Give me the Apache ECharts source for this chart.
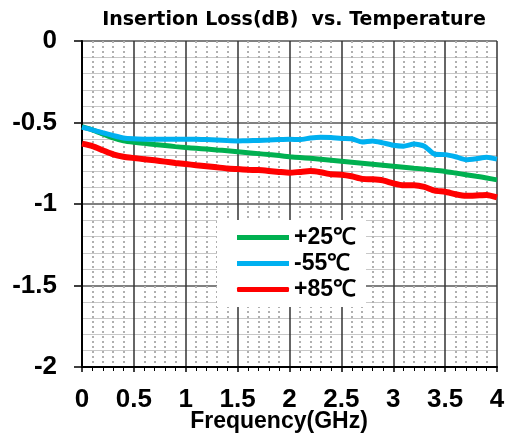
<!DOCTYPE html>
<html>
<head>
<meta charset="utf-8">
<script src="https://cdn.jsdelivr.net/npm/echarts@6/dist/echarts.min.js"></script>
<style>
html,body{margin:0;padding:0;background:#fff;}
#c{width:505px;height:439px;}
</style>
</head>
<body>
<div id="c"></div>
<script>
var freq = [0,0.1,0.2,0.3,0.4,0.5,0.6,0.7,0.8,0.9,1.0,1.1,1.2,1.3,1.4,1.5,1.6,1.7,1.8,1.9,2.0,2.1,2.2,2.3,2.4,2.5,2.6,2.7,2.8,2.9,3.0,3.1,3.2,3.3,3.4,3.5,3.6,3.7,3.8,3.9,4.0];
var loss25 = [-0.525,-0.545,-0.570,-0.595,-0.613,-0.622,-0.628,-0.635,-0.641,-0.648,-0.654,-0.658,-0.663,-0.668,-0.673,-0.679,-0.685,-0.691,-0.697,-0.703,-0.710,-0.715,-0.720,-0.726,-0.732,-0.738,-0.744,-0.750,-0.756,-0.762,-0.768,-0.774,-0.780,-0.786,-0.793,-0.800,-0.810,-0.820,-0.830,-0.840,-0.852];
var lossM55 = [-0.530,-0.545,-0.563,-0.580,-0.595,-0.600,-0.602,-0.603,-0.603,-0.602,-0.602,-0.603,-0.605,-0.608,-0.611,-0.613,-0.612,-0.610,-0.608,-0.605,-0.603,-0.605,-0.595,-0.590,-0.592,-0.598,-0.600,-0.620,-0.613,-0.625,-0.640,-0.645,-0.632,-0.645,-0.695,-0.697,-0.710,-0.728,-0.722,-0.713,-0.725];
var loss85 = [-0.630,-0.645,-0.670,-0.695,-0.710,-0.718,-0.725,-0.732,-0.740,-0.748,-0.755,-0.762,-0.768,-0.775,-0.782,-0.786,-0.790,-0.792,-0.797,-0.803,-0.808,-0.803,-0.798,-0.805,-0.818,-0.820,-0.830,-0.846,-0.848,-0.855,-0.873,-0.885,-0.885,-0.895,-0.918,-0.925,-0.940,-0.950,-0.948,-0.945,-0.960];
var seriesNames = ['+25℃','-55℃','+85℃'];
var titleText = 'Insertion Loss(dB)  vs. Temperature';
var xName = 'Frequency(GHz)';

function pairs(v){ return freq.map(function(f,i){ return [f, v[i]]; }); }

var chart = echarts.init(document.getElementById('c'), null, {renderer:'canvas'});
var font = 'Liberation Sans, Arial, sans-serif';
chart.setOption({
  animation:false,
  backgroundColor:'#fff',
  title:[{
    text:titleText, left:289, top:6, textAlign:'center',
    textStyle:{fontFamily:'DejaVu Sans, Verdana, sans-serif', fontWeight:'bold', fontSize:19, color:'#000'}
  },{
    text:xName, left:279, top:410, textAlign:'center', padding:0,
    textStyle:{fontFamily:font, fontWeight:'bold', fontSize:23, color:'#000'}
  }],
  grid:{left:82, right:8, top:41, bottom:72, containLabel:false, outerBoundsMode:'none'},
  legend:{
    orient:'vertical', left:217, top:220, width:145, height:82,
    backgroundColor:'#fff', padding:[6,10,6,20], itemGap:3,
    itemWidth:52, itemHeight:5,
    textStyle:{fontFamily:font, fontWeight:'bold', fontSize:23, color:'#000'},
    data:[
      {name:seriesNames[0], icon:'rect'},
      {name:seriesNames[1], icon:'rect'},
      {name:seriesNames[2], icon:'roundRect'}
    ]
  },
  xAxis:{
    type:'value', min:0, max:4, interval:0.5,
    axisLine:{show:true, onZero:false, lineStyle:{color:'#000', width:2}},
    axisTick:{show:true, inside:false, length:5, lineStyle:{color:'#000', width:1.5}},
    minorTick:{show:true, splitNumber:5, length:4, lineStyle:{color:'#000', width:1}},
    axisLabel:{fontFamily:font, fontWeight:'bold', fontSize:26, color:'#000', margin:20,
      formatter:function(v){ return String(v); }},
    splitLine:{show:true, lineStyle:{color:'#333', width:1.5}},
    minorSplitLine:{show:true, lineStyle:{color:'#b0b0b0', width:2, type:[2,3]}}
  },
  yAxis:{
    type:'value', min:-2, max:0, interval:0.5,
    axisLine:{show:true, onZero:false, lineStyle:{color:'#000', width:2}},
    axisTick:{show:true, inside:false, length:8, lineStyle:{color:'#000', width:1.5}},
    minorTick:{show:false, splitNumber:5},
    axisLabel:{fontFamily:font, fontWeight:'bold', fontSize:26, color:'#000', margin:25,
      formatter:function(v){ return String(v); }},
    splitLine:{show:true, lineStyle:{color:'#808080', width:2}},
    minorSplitLine:{show:true, lineStyle:{color:'#c8c8c8', width:1}}
  },
  series:[
    {name:seriesNames[0], type:'line', data:pairs(loss25), showSymbol:false, smooth:0.2,
      lineStyle:{color:'#00B050', width:5}, itemStyle:{color:'#00B050'}, z:2},
    {name:seriesNames[1], type:'line', data:pairs(lossM55), showSymbol:false, smooth:0.2,
      lineStyle:{color:'#00B0F0', width:5}, itemStyle:{color:'#00B0F0'}, z:3},
    {name:seriesNames[2], type:'line', data:pairs(loss85), showSymbol:false, smooth:0.2,
      lineStyle:{color:'#FF0000', width:6}, itemStyle:{color:'#FF0000'}, z:4}
  ]
});
</script>
</body>
</html>
